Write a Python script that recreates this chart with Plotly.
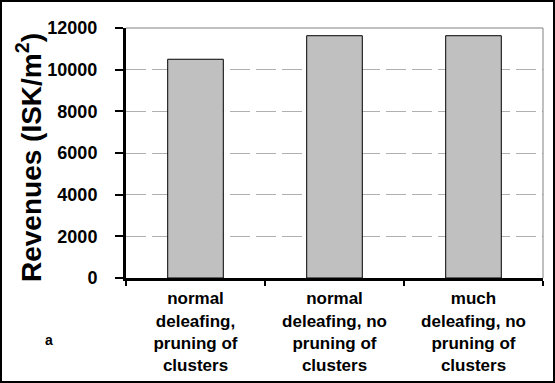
import plotly.graph_objects as go

categories = [
    "normal<br>deleafing,<br>pruning of<br>clusters",
    "normal<br>deleafing, no<br>pruning of<br>clusters",
    "much<br>deleafing, no<br>pruning of<br>clusters",
]
revenues = [10500, 11630, 11630]
y_ticks = [0, 2000, 4000, 6000, 8000, 10000, 12000]
y_tick_labels = ["0", "2000", "4000", "6000", "8000", "10000", "12000"]

W, H = 555, 383
L, R, T, B = 126, 12, 28, 105
pw, ph = W - L - R, H - T - B

def px(x):
    return (x - L) / pw

def py(y):
    return (H - B - y) / ph

FONT = "Liberation Sans, Arial, sans-serif"

fig = go.Figure(go.Bar(
    x=categories, y=revenues,
    marker=dict(color="#c0c0c0", line=dict(color="black", width=1)),
))

fig.update_layout(
    width=W, height=H,
    margin=dict(l=L, r=R, t=T, b=B, pad=0, autoexpand=False),
    paper_bgcolor="white", plot_bgcolor="white",
    bargap=0.6, showlegend=False,
    font=dict(family=FONT, color="black"),
)
fig.update_xaxes(
    type="category", tickson="boundaries", automargin=False,
    showline=True, linecolor="black", linewidth=3,
    ticks="outside", ticklen=5, tickwidth=2, tickcolor="black",
    tickfont=dict(size=17, weight="bold", family=FONT),
    showgrid=False, zeroline=False, ticklabelstandoff=3,
)
fig.update_yaxes(
    range=[0, 12000], tickvals=y_ticks, ticktext=y_tick_labels, automargin=False,
    showline=True, linecolor="black", linewidth=3,
    ticks="outside", ticklen=8, tickwidth=2, tickcolor="black",
    tickfont=dict(size=18, weight="bold", family=FONT),
    showgrid=True, gridcolor="#b0b0b0", gridwidth=1, griddash="20px,6px",
    zeroline=False, ticklabelstandoff=14,
)

fig.add_shape(type="line", xref="paper", yref="paper", x0=0, x1=1, y0=1, y1=1,
              line=dict(color="#808080", width=1))
fig.add_shape(type="line", xref="paper", yref="paper", x0=1, x1=1, y0=0, y1=1,
              line=dict(color="#808080", width=1))
fig.add_shape(type="rect", xref="paper", yref="paper",
              x0=px(1), x1=px(554), y0=py(382), y1=py(1),
              line=dict(color="black", width=2))

fig.add_annotation(text="Revenues (ISK/m<sup>2</sup>)", xref="paper", yref="paper",
                   x=px(29), y=py(158), xanchor="center", yanchor="middle",
                   textangle=-90, showarrow=False,
                   font=dict(size=28, weight="bold", family=FONT))
fig.add_annotation(text="a", xref="paper", yref="paper",
                   x=px(49), y=py(340), xanchor="center", yanchor="middle",
                   showarrow=False,
                   font=dict(size=14, weight="bold", family=FONT))

fig.write_html("out.html", config={"displayModeBar": False},
               post_script="document.body.style.margin='0';document.body.style.padding='0';")
